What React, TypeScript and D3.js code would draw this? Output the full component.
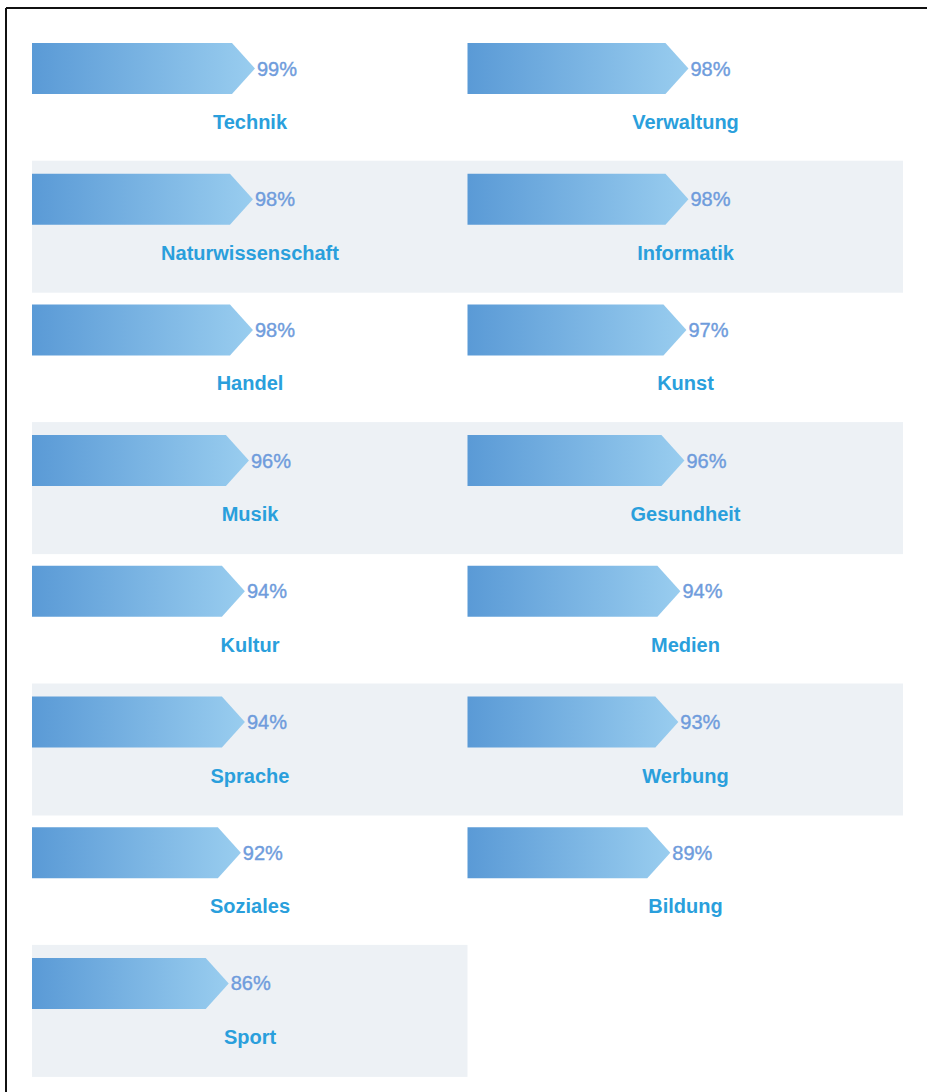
import React from "react";
import * as d3 from "d3";

const categories = [
  "Technik", "Verwaltung", "Naturwissenschaft", "Informatik", "Handel", "Kunst",
  "Musik", "Gesundheit", "Kultur", "Medien", "Sprache", "Werbung",
  "Soziales", "Bildung", "Sport",
];
const values = [99, 98, 98, 98, 98, 97, 96, 96, 94, 94, 94, 93, 92, 89, 86];

const W = 927;
const H = 1092;
const COLS = 2;
const cellX0 = 32;
const cellW = 435.5;
const rowY0 = 31;
const rowPitch = 130.7;
const bandH = 132;
const barOffY = 12;
const barH = 51;
const tip = 23;
const labelCenter = 218;

export default function App() {
  const x = d3.scaleLinear().domain([0, 100]).range([0, 202]);
  const rows = Math.ceil(values.length / COLS);
  return (
    <div style={{ position: "absolute", left: 0, top: 0 }}>
      <svg width={W} height={H} style={{ display: "block" }}>
        <defs>
          <linearGradient id="barGrad" x1="0" y1="0" x2="1" y2="0">
            <stop offset="0%" stopColor="#5a9ad6" />
            <stop offset="100%" stopColor="#99cdef" />
          </linearGradient>
        </defs>
        <rect x={0} y={0} width={W} height={H} fill="#fff" />
        {d3.range(rows).map((r) =>
          r % 2 === 1 ? (
            <rect
              key={"band" + r}
              x={cellX0}
              y={rowY0 + r * rowPitch - 1}
              width={Math.min(COLS, values.length - r * COLS) * cellW}
              height={bandH}
              fill="#edf1f5"
            />
          ) : null
        )}
        {values.map((v, i) => {
          const r = Math.floor(i / COLS);
          const c = i % COLS;
          const cx = cellX0 + c * cellW;
          const by = rowY0 + r * rowPitch + barOffY;
          const flat = x(v);
          const path = d3.path();
          path.moveTo(cx, by);
          path.lineTo(cx + flat, by);
          path.lineTo(cx + flat + tip, by + barH / 2);
          path.lineTo(cx + flat, by + barH);
          path.lineTo(cx, by + barH);
          path.closePath();
          return (
            <g key={categories[i]}>
              <path d={path.toString()} fill="url(#barGrad)" />
              <text
                x={cx + flat + tip + 2}
                y={by + barH / 2 + 7}
                fontFamily="Liberation Sans, Arial, sans-serif"
                fontSize={20}
                fill="#6f9cdc"
                stroke="#6f9cdc"
                strokeWidth={0.4}
              >
                {v}%
              </text>
              <text
                x={cx + labelCenter}
                y={by + 86}
                textAnchor="middle"
                fontFamily="Liberation Sans, Arial, sans-serif"
                fontWeight="bold"
                fontSize={20}
                fill="#2a9fdc"
              >
                {categories[i]}
              </text>
            </g>
          );
        })}
        <line x1={6} y1={8} x2={W} y2={8} stroke="#111" strokeWidth={2} />
        <line x1={6} y1={8} x2={6} y2={H} stroke="#111" strokeWidth={2} />
      </svg>
    </div>
  );
}
